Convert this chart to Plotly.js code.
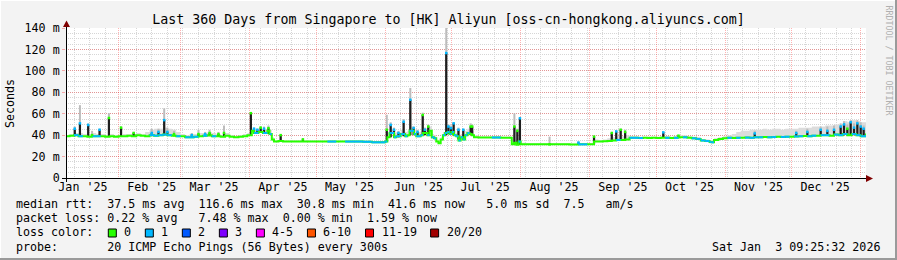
<!DOCTYPE html>
<html><head><meta charset="utf-8">
<script src="https://cdn.plot.ly/plotly-3.0.1.min.js"></script>
<style>html,body{margin:0;padding:0;background:#f3f3f3;}#chart{width:897px;height:260px;}</style>
</head><body><div id="chart"></div>
<script>
// ---- median rtt samples (ms), loss class (0 = 0/20, 1 = 1/20), smoke top (ms)
const days = [
 '2025-01-08 09:25:32','2025-01-10','2025-01-12','2025-01-14','2025-01-16','2025-01-18','2025-01-20','2025-01-22','2025-01-24','2025-01-26','2025-01-28','2025-01-30',
 '2025-02-01','2025-02-03','2025-02-05','2025-02-07','2025-02-09','2025-02-11','2025-02-13','2025-02-15','2025-02-17','2025-02-19','2025-02-21','2025-02-23','2025-02-25','2025-02-27',
 '2025-03-01','2025-03-03','2025-03-05','2025-03-07','2025-03-09','2025-03-11','2025-03-13','2025-03-15','2025-03-17','2025-03-19','2025-03-21','2025-03-23','2025-03-25','2025-03-27','2025-03-29','2025-03-31',
 '2025-04-02','2025-04-03','2025-04-05','2025-04-07','2025-04-09','2025-04-10','2025-04-11','2025-04-12','2025-04-14','2025-04-16','2025-04-20','2025-04-24','2025-04-28',
 '2025-05-02','2025-05-06','2025-05-10','2025-05-14','2025-05-18','2025-05-22','2025-05-26','2025-05-30',
 '2025-06-01','2025-06-02','2025-06-03','2025-06-05','2025-06-06','2025-06-08','2025-06-10','2025-06-11','2025-06-12','2025-06-14','2025-06-15','2025-06-17','2025-06-18','2025-06-20','2025-06-21','2025-06-22','2025-06-23','2025-06-24','2025-06-25','2025-06-26','2025-06-27','2025-06-28','2025-06-29','2025-06-30',
 '2025-07-01','2025-07-02','2025-07-03','2025-07-04','2025-07-05','2025-07-06','2025-07-07','2025-07-08','2025-07-09','2025-07-10','2025-07-11','2025-07-13','2025-07-15','2025-07-17','2025-07-19','2025-07-21','2025-07-23','2025-07-25','2025-07-27','2025-07-28','2025-07-29','2025-07-30','2025-07-31',
 '2025-08-01','2025-08-03','2025-08-07','2025-08-11','2025-08-15','2025-08-19','2025-08-23','2025-08-27','2025-08-31',
 '2025-09-02','2025-09-03','2025-09-05','2025-09-07','2025-09-09','2025-09-11','2025-09-13','2025-09-15','2025-09-17','2025-09-19','2025-09-21','2025-09-23','2025-09-25','2025-09-27','2025-09-29',
 '2025-10-01','2025-10-03','2025-10-05','2025-10-07','2025-10-09','2025-10-11','2025-10-13','2025-10-15','2025-10-17','2025-10-19','2025-10-21','2025-10-23','2025-10-25','2025-10-26','2025-10-27','2025-10-29','2025-10-31',
 '2025-11-02','2025-11-04','2025-11-06','2025-11-08','2025-11-10','2025-11-12','2025-11-14','2025-11-16','2025-11-18','2025-11-20','2025-11-22','2025-11-24','2025-11-26','2025-11-28','2025-11-30',
 '2025-12-02','2025-12-04','2025-12-06','2025-12-08','2025-12-10','2025-12-12','2025-12-14','2025-12-16','2025-12-18','2025-12-20','2025-12-22','2025-12-24','2025-12-26','2025-12-28','2025-12-30','2026-01-01','2026-01-03 09:25:32'
];
const median = [
 39,39.5,40,39,39,38.5,39,39,39,38.5,39,38.5,
 39,39,39.5,39,40,39.5,39,40,39.5,40,40.5,40,39.5,39,
 39,38,38,38.5,39,39.5,40,39,39,38.5,39.5,38.5,38,38.5,39,40,
 44,42,43,42,44,41,36,34,34.5,34,34,34,34,
 34,34,34,34,34,33.8,33.3,33.3,
 34,38,42,38,39,41,39,40,44,41,39,40,42,40,44,38,37,34,32.5,36,40,42,43,41,
 43,40,39,35,38,36,40,42,41,40,38,37.8,37.8,37.8,37.8,37.8,37.6,37.6,37.6,31.5,33,31,34,
 31.5,31.4,31.4,31.5,31.4,31.4,31.3,31.4,31.5,
 31.5,34,34,34.2,34.5,35,35.5,35.5,36,37.5,37.5,37.3,37.5,37.3,37.5,
 37.3,37.6,37.5,37.3,37.5,38,38,37.5,37,36.5,35,34.5,33.5,33.3,35.5,36.5,37.2,
 37.5,37.3,37.5,37.5,37.7,37.5,38,38,38.2,38,38.2,38.5,38.3,38.5,38.6,
 38.8,39,39.2,39,39.5,39.5,40,40,39.5,40.5,40,41,40,41,40,39,41.6
];
const loss = [
 0,0,1,1,0,0,1,1,0,0,0,0,
 0,0,0,0,0,0,0,1,1,1,1,1,0,1,
 0,1,1,1,0,1,0,1,0,0,0,0,0,0,0,0,
 0,1,0,1,0,1,0,0,0,0,0,0,0,
 0,1,0,1,1,1,1,1,
 1,0,1,1,1,1,1,0,1,1,1,1,0,1,0,1,1,0,0,0,1,1,1,1,
 1,1,1,1,1,1,1,1,0,0,0,0,0,0,1,1,0,0,0,0,0,0,1,
 0,0,0,0,0,0,0,1,0,
 0,0,0,0,0,0,1,0,0,1,1,1,0,0,0,
 0,0,1,0,1,0,1,0,1,1,1,1,1,1,0,0,0,
 1,0,1,0,1,1,1,1,0,1,1,0,1,1,0,
 1,1,0,1,1,0,1,1,0,1,1,1,0,1,1,1,1
];
const smoke = [
 40,41,42,42,41,41,42,41,41,40,41,40,
 40,41,41,41,42,41,43,45,46,46,47,46,45,43,
 41,40,41,41,42,42,43,42,41,40,42,40,39,40,41,42,
 46,45,45,45,47,45,38,35,35.5,35,35,35,35,
 35,35,35,35,35,34.8,34.3,34.3,
 35,42,46,42,43,45,43,44,48,45,43,44,46,44,48,41,40,36,34,38,43,46,47,45,
 47,44,42,38,41,39,44,46,45,44,40,38.8,38.8,38.8,38.8,38.8,38.6,38.6,38.6,33,36,33,37,
 33,32.4,32.4,32.5,32.4,32.4,32.3,32.4,32.5,
 32.5,36,35.5,36,37,38,39,39,40,39,39,38.5,38.5,38.5,38.5,
 38.5,39,39,38.5,39,40,40,39,38.5,38,36.5,36,35,35,37,38,39,
 40,41,43,44,44,45,45,45,46,45,46,46,45,46,46,
 46,47,47,47,48,48,48,49,49,50,50,53,52,54,53,52,50
];
// ---- smoke spikes: base, dense (dark) top, light smoke top, loss class at top
const spikeDays = ['2025-01-12 08:00','2025-01-14 16:00','2025-01-18 09:00','2025-01-20 03:00','2025-01-23 12:00','2025-01-27 17:00','2025-02-02 04:00','2025-02-07 20:00','2025-02-16','2025-02-19','2025-02-21 14:00','2025-02-23','2025-02-26','2025-03-06','2025-03-09','2025-03-12','2025-03-14','2025-03-18','2025-03-20 12:00','2025-04-01 14:00','2025-04-03','2025-04-04 12:00','2025-04-06','2025-04-07 12:00','2025-04-09 12:00','2025-04-15','2025-04-25','2025-06-01 18:00','2025-06-03 12:00','2025-06-05','2025-06-07','2025-06-09 08:00','2025-06-12 08:00','2025-06-13 20:00','2025-06-15 14:00','2025-06-17 22:00','2025-06-18 22:00','2025-06-20 10:00','2025-06-28 12:00','2025-06-29 12:00','2025-06-30 16:00','2025-07-01 20:00','2025-07-04','2025-07-06 04:00','2025-07-09 12:00','2025-07-10 04:00','2025-07-29 04:00','2025-07-30 12:00','2025-07-31 16:00','2025-08-14','2025-08-27','2025-09-03','2025-09-11','2025-09-13','2025-09-15','2025-09-17','2025-10-04 04:00','2025-10-11','2025-11-14 08:00','2025-12-03','2025-12-08','2025-12-14','2025-12-17','2025-12-20','2025-12-23','2025-12-24 12:00','2025-12-26','2025-12-27 12:00','2025-12-29','2025-12-30 12:00','2026-01-01','2026-01-02 08:00'];
const spikeBase = [39,39,39,39,39,39,39,39,40,40,40,40,39,38,39,39,39,39,39,40,42,42,42,42,41,34,34,34,38,38,38,39,40,40,39,40,40,40,40,41,41,40,36,36,40,40,31,31,31,31.4,31.4,31.4,34.5,35,35.5,36,37.5,37.5,38,38.8,39,39.5,40,40,40,40,40,40,40,40,39,39];
const spikeDark = [46,51,49.5,40,45,56,47,42,42,43,54,43,41,40,41,41,42,41,42,60.5,46,45,47,46,46.5,40,36,45,49.5,45,42,52.5,73,46.7,43,58.8,45,48,116.6,48,46.5,51,45,45,48,48,48,44,55.7,31.4,33,38.6,42,43.5,45,43,42.6,39.5,41.6,42,43,45,44,45,48,50,46,52,47,51,48,46];
const spikeGray = [48,68,51,44,46,60.5,48,43,46,46,65,47,44,42,45,43,45,43,49,61,47,46,48,48,49,40.5,37,59,52,47,44,55,84,48,45,61,47,50,140,50,49,52,47,46,51,50,60.3,46,57,38.6,34,39,43,44,46,45,43,40,44,44,46,48,48,49,51,53,50,54,51,54,52,49];
const spikeLoss = [1,1,1,0,1,0,0,0,1,1,1,1,0,1,0,1,0,0,0,0,1,1,0,1,0,0,0,0,1,1,1,1,1,1,1,0,1,0,1,1,1,1,1,1,0,0,0,0,1,0,1,0,0,1,0,0,1,0,1,1,1,1,1,1,1,1,0,1,1,1,1,1];
// ---- axes text
const yTickVals = [0,20,40,60,80,100,120,140];
const yTickText = ['0','20 m','40 m','60 m','80 m','100 m','120 m','140 m'];
const monthLabelDays = ['2025-01-16','2025-02-16','2025-03-16','2025-04-16','2025-05-16','2025-06-16','2025-07-16','2025-08-16','2025-09-16','2025-10-16','2025-11-16','2025-12-16'];
const monthLabels = ["Jan '25","Feb '25","Mar '25","Apr '25","May '25","Jun '25","Jul '25","Aug '25","Sep '25","Oct '25","Nov '25","Dec '25"];
const lossLabels = ['0','1','2','3','4-5','6-10','11-19','20/20'];
const lossColors = ['#26ff00','#00b8ff','#0059ff','#7e00ff','#ff00ff','#ff5500','#ff0000','#a10000'];
const statLines = [
 'median rtt:  37.5 ms avg  116.6 ms max  30.8 ms min  41.6 ms now   5.0 ms sd  7.5   am/s',
 'packet loss: 0.22 % avg   7.48 % max  0.00 % min  1.59 % now',
 'loss color:',
 'probe:       20 ICMP Echo Pings (56 Bytes) every 300s'
];
const stampText = 'Sat Jan  3 09:25:32 2026';
const titleText = 'Last 360 Days from Singapore to [HK] Aliyun [oss-cn-hongkong.aliyuncs.com]';
const startTime = '2025-01-08 09:25:32', endTime = '2026-01-03 09:25:32';

// ---- geometry helpers (pixel -> paper)
const L = 66, T = 28, W = 800, H = 150;
const px = x => (x - L) / W;
const py = y => (T + H - y) / H;
const nb = s => s.replace(/ /g, '\u00a0');
const MONO = 'DejaVu Sans Mono';
const FS = 11.66;
const colorOf = v => v === 1 ? lossColors[1] : lossColors[0];

const traces = [];
traces.push({x: days, y: median, mode: 'lines', line: {width: 0, shape: 'hv'}, hoverinfo: 'skip'});
traces.push({x: days, y: smoke, mode: 'lines', fill: 'tonexty', fillcolor: '#dcdcdc', line: {width: 0, shape: 'hv'}, hoverinfo: 'skip'});
const gx = [], gy = [], dx = [], dy = [];
spikeDays.forEach((d, i) => {
  gx.push(d, d, null); gy.push(spikeBase[i], spikeGray[i], null);
  dx.push(d, d, null); dy.push(spikeBase[i], spikeDark[i], null);
});
traces.push({x: gx, y: gy, mode: 'lines', line: {color: '#bcbcbc', width: 2}, hoverinfo: 'skip'});
traces.push({x: dx, y: dy, mode: 'lines', line: {color: '#1e1e1e', width: 2.2}, hoverinfo: 'skip'});
traces.push({x: days, y: median, mode: 'lines', line: {color: lossColors[0], width: 2, shape: 'hv'}, hoverinfo: 'skip'});
const bx = [], by = [];
for (let i = 0; i < days.length - 1; i++) {
  if (loss[i] === 1) { bx.push(days[i], days[i + 1], null); by.push(median[i], median[i], null); }
}
traces.push({x: bx, y: by, mode: 'lines', line: {color: lossColors[1], width: 2}, hoverinfo: 'skip'});
traces.push({x: spikeDays, y: spikeDark, mode: 'markers', marker: {symbol: 'square', size: 2.5, color: spikeLoss.map(colorOf), line: {width: 0}}, hoverinfo: 'skip'});
traces.push({x: [monthLabelDays[0]], y: [null], xaxis: 'x2', mode: 'markers', hoverinfo: 'skip'});

const majorGrid = 'rgba(255,0,0,0.3)';
const minorGrid = '#d6d6d6';

const annotations = [];
statLines.forEach((s, i) => {
  annotations.push({xref: 'paper', yref: 'paper', x: px(16), y: py([204.3, 218.3, 232.3, 246.7][i]), xanchor: 'left', yanchor: 'middle',
    text: nb(s), showarrow: false, font: {family: MONO, size: FS, color: '#000'}, borderpad: 0, borderwidth: 0});
});
annotations.push({xref: 'paper', yref: 'paper', x: px(881.5), y: py(246.7), xanchor: 'right', yanchor: 'middle',
  text: nb(stampText), showarrow: false, font: {family: MONO, size: FS, color: '#000'}, borderpad: 0});
annotations.push({xref: 'paper', yref: 'paper', x: px(10), y: py(103), xanchor: 'center', yanchor: 'middle', textangle: -90,
  text: 'Seconds', showarrow: false, font: {family: MONO, size: FS, color: '#000'}, borderpad: 0});
annotations.push({xref: 'paper', yref: 'paper', x: px(888.5), y: py(60), xanchor: 'center', yanchor: 'middle', textangle: 90,
  text: nb('RRDTOOL / TOBI OETIKER'), showarrow: false, font: {family: MONO, size: 8.3, color: '#b0b0b0'}, borderpad: 0});

const shapes = [];
// legend swatches
let bxp = 108.3;
lossLabels.forEach((lab, i) => {
  shapes.push({type: 'rect', xref: 'paper', yref: 'paper', x0: px(bxp), x1: px(bxp + 8), y0: py(237), y1: py(229),
    fillcolor: lossColors[i], line: {color: '#000', width: 1}});
  annotations.push({xref: 'paper', yref: 'paper', x: px(bxp + 15), y: py(232.3), xanchor: 'left', yanchor: 'middle',
    text: nb(lab), showarrow: false, font: {family: MONO, size: FS, color: '#000'}, borderpad: 0});
  bxp += 30 + 7.02 * lab.length;
});
// axis lines and arrows
shapes.push({type: 'line', xref: 'paper', yref: 'paper', x0: px(62), x1: px(868), y0: py(178.5), y1: py(178.5), line: {color: '#000', width: 1}});
shapes.push({type: 'line', xref: 'paper', yref: 'paper', x0: px(66.5), x1: px(66.5), y0: py(182), y1: py(24), line: {color: '#000', width: 1}});
shapes.push({type: 'path', xref: 'paper', yref: 'paper', path: `M ${px(866)},${py(175)} L ${px(873)},${py(178.5)} L ${px(866)},${py(182)} Z`, fillcolor: '#800000', line: {width: 0}});
shapes.push({type: 'path', xref: 'paper', yref: 'paper', path: `M ${px(63)},${py(27)} L ${px(66.5)},${py(20.5)} L ${px(70)},${py(27)} Z`, fillcolor: '#800000', line: {width: 0}});
// frame
shapes.push({type: 'line', xref: 'paper', yref: 'paper', x0: px(0), x1: px(897), y0: py(0.5), y1: py(0.5), line: {color: '#ffffff', width: 1}});
shapes.push({type: 'line', xref: 'paper', yref: 'paper', x0: px(0.5), x1: px(0.5), y0: py(0), y1: py(260), line: {color: '#ffffff', width: 1}});
shapes.push({type: 'line', xref: 'paper', yref: 'paper', x0: px(0), x1: px(897), y0: py(259), y1: py(259), line: {color: '#9a9a9a', width: 2}});
shapes.push({type: 'line', xref: 'paper', yref: 'paper', x0: px(896), x1: px(896), y0: py(0), y1: py(260), line: {color: '#9a9a9a', width: 2}});

const layout = {
  width: 897, height: 260,
  margin: {l: L, r: 897 - L - W, t: T, b: 260 - T - H, pad: 0},
  paper_bgcolor: '#f3f3f3', plot_bgcolor: '#ffffff',
  showlegend: false, hovermode: false,
  title: {text: titleText, x: 0.5, xref: 'container', xanchor: 'center', y: 1 - 19 / 260, yref: 'container', yanchor: 'middle',
    font: {family: MONO, size: 13.3, color: '#000'}},
  xaxis: {type: 'date', range: [startTime, endTime], autorange: false, tickmode: 'linear', tick0: '2025-01-01', dtick: 'M1',
    showticklabels: false, ticks: '', showgrid: true, gridcolor: majorGrid, griddash: '1px,1px', gridwidth: 1,
    minor: {tick0: '2025-01-12', dtick: 604800000, showgrid: true, gridcolor: minorGrid, griddash: '1px,1px', gridwidth: 1},
    zeroline: false, showline: false},
  xaxis2: {type: 'date', overlaying: 'x', anchor: 'y', side: 'bottom', range: [startTime, endTime], autorange: false,
    tickmode: 'array', tickvals: monthLabelDays, ticktext: monthLabels, showgrid: false, zeroline: false, showline: false,
    ticks: '', tickfont: {family: MONO, size: FS, color: '#000'}},
  yaxis: {range: [0, 140], autorange: false, tickmode: 'array', tickvals: yTickVals, ticktext: yTickText,
    showgrid: true, gridcolor: majorGrid, griddash: '1px,1px', gridwidth: 1,
    minor: {tick0: 0, dtick: 5, showgrid: true, gridcolor: minorGrid, griddash: '1px,1px', gridwidth: 1},
    ticks: 'outside', ticklen: 3, tickcolor: majorGrid, zeroline: false, showline: false,
    tickfont: {family: MONO, size: FS, color: '#000'}},
  annotations: annotations,
  shapes: shapes
};
Plotly.newPlot('chart', traces, layout, {staticPlot: true, displayModeBar: false});
</script>
</body></html>
